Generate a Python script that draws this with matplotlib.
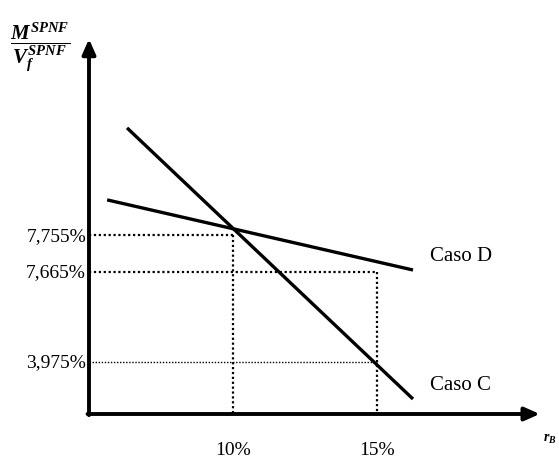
import matplotlib
matplotlib.use('Agg')
from matplotlib import pyplot as plt

# schematic diagram, y axis in arbitrary units (ticks are not to scale)
x_caso_c = [6.32, 16.25]
y_caso_c = [7.63, 0.40]
x_caso_d = [5.63, 16.25]
y_caso_d = [5.71, 3.84]

x_ref = [10, 15]
x_ref_labels = ['10%', '15%']

y_levels = [4.77, 3.79, 1.39]
y_level_labels = ['7,755%', '7,665%', '3,975%']
y_level_xend = [10, 15, 15]

x0, y0 = 5, 0
x_end, y_end = 20.65, 10.0

plt.rcParams['mathtext.fontset'] = 'custom'
plt.rcParams['mathtext.it'] = 'Liberation Serif:bold:italic'
plt.rcParams['mathtext.rm'] = 'Liberation Serif:bold'

fig = plt.figure(figsize=(5.59, 4.60), dpi=100)
ax = fig.add_axes([0, 0, 1, 1])
ax.set_xlim(1.910, 21.319)
ax.set_ylim(-1.2, 11.067)
ax.axis('off')

# axes with arrows
ax.annotate('', xy=(x_end, y0), xytext=(x0 - 0.05, y0),
            arrowprops=dict(arrowstyle='-|>,head_length=0.9,head_width=0.4',
                            lw=2.8, color='black', shrinkA=0, shrinkB=0))
ax.annotate('', xy=(x0, y_end), xytext=(x0, y0 - 0.03),
            arrowprops=dict(arrowstyle='-|>,head_length=0.9,head_width=0.4',
                            lw=2.8, color='black', shrinkA=0, shrinkB=0))

# dotted guides
for lvl, xe, lab in zip(y_levels, y_level_xend, y_level_labels):
    lw = 1.0 if lvl < 2 else 1.6
    ax.plot([x0, xe], [lvl, lvl], color='black', lw=lw, ls=(0, (1, 1.2)))
    ax.text(x0 - 0.1, lvl, lab, ha='right', va='center',
            fontsize=14, family='Liberation Serif')
for xr, top in zip(x_ref, y_levels[:2]):
    ax.plot([xr, xr], [top, y0], color='black', lw=1.6, ls=(0, (1, 1.2)))

for xr, lab in zip(x_ref, x_ref_labels):
    ax.text(xr, -1.16, lab, ha='center', va='bottom',
            fontsize=14, family='Liberation Serif')

# lines
ax.plot(x_caso_c, y_caso_c, color='black', lw=2.4, solid_capstyle='butt')
ax.plot(x_caso_d, y_caso_d, color='black', lw=2.4, solid_capstyle='butt')
ax.text(16.85, y_caso_d[1] + 0.4, 'Caso D', ha='left', va='center',
        fontsize=15, family='Liberation Serif')
ax.text(16.85, 0.8, 'Caso C', ha='left', va='center',
        fontsize=15, family='Liberation Serif')

# axis labels
ax.text(3.3, 9.8, r'$\dfrac{M^{SPNF}}{V_f^{SPNF}}$', ha='center',
        va='center', fontsize=15)
ax.text(20.75, -0.65, r'$r_B$', ha='left', va='center', fontsize=10)

fig.savefig('out.png', dpi=100)
